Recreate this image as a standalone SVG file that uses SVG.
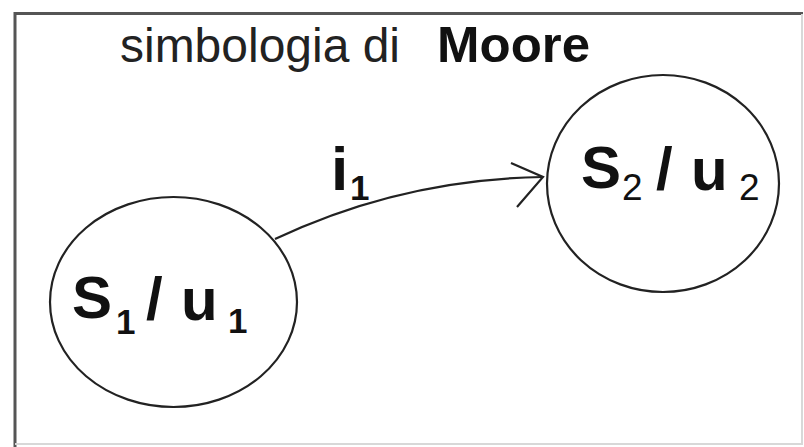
<svg xmlns="http://www.w3.org/2000/svg" width="804" height="447" viewBox="0 0 804 447">
<style>
.st{fill:#fff;stroke:#222;stroke-width:2.2}
.cn{fill:none;stroke:#222;stroke-width:2.2}
.lb{font-family:"Liberation Sans",Arial,sans-serif;font-weight:bold;fill:#111}
.sub{font-family:"Liberation Sans",Arial,sans-serif;fill:#111}
.ti{font-family:"Liberation Sans",Arial,sans-serif;fill:#222}
</style>
<rect x="0" y="0" width="804" height="447" fill="#fff"/>
<g id="frame">
<line x1="15" y1="13.5" x2="803" y2="13.5" stroke="#555" stroke-width="3"/>
<line x1="15" y1="12" x2="15" y2="447" stroke="#555" stroke-width="3"/>
<line x1="15" y1="444" x2="803" y2="444" stroke="#d8d8d8" stroke-width="2"/>
<line x1="802" y1="14" x2="802" y2="444" stroke="#d8d8d8" stroke-width="2"/>
</g>
<g id="title">
<text class="ti" x="120" y="62" font-size="48" textLength="280" lengthAdjust="spacingAndGlyphs">simbologia di</text>
<text class="lb" x="437" y="62" font-size="50" textLength="153" lengthAdjust="spacingAndGlyphs">Moore</text>
</g>
<g id="connectors">
<path class="cn" d="M275,239 Q402,179 543,177"/>
<path class="cn" d="M511,163 L543,177 L517,207"/>
<text class="lb" x="331" y="190" font-size="62">i</text>
<text class="lb" x="350" y="200" font-size="35">1</text>
</g>
<g id="S1">
<ellipse class="st" cx="173.5" cy="302" rx="123.5" ry="105"/>
<text class="lb" x="72" y="318" font-size="60">S</text>
<text class="lb" x="116" y="334" font-size="35">1</text>
<text class="lb" x="146" y="319" font-size="60">/</text>
<text class="lb" x="181" y="320" font-size="60">u</text>
<text class="lb" x="228" y="333" font-size="35">1</text>
</g>
<g id="S2">
<ellipse class="st" cx="663" cy="183.5" rx="116" ry="108.5"/>
<text class="lb" x="581" y="188" font-size="60">S</text>
<text class="sub" x="622" y="200" font-size="37">2</text>
<text class="lb" x="656" y="189" font-size="60">/</text>
<text class="lb" x="691" y="190" font-size="60">u</text>
<text class="sub" x="739" y="200" font-size="37">2</text>
</g>
</svg>
